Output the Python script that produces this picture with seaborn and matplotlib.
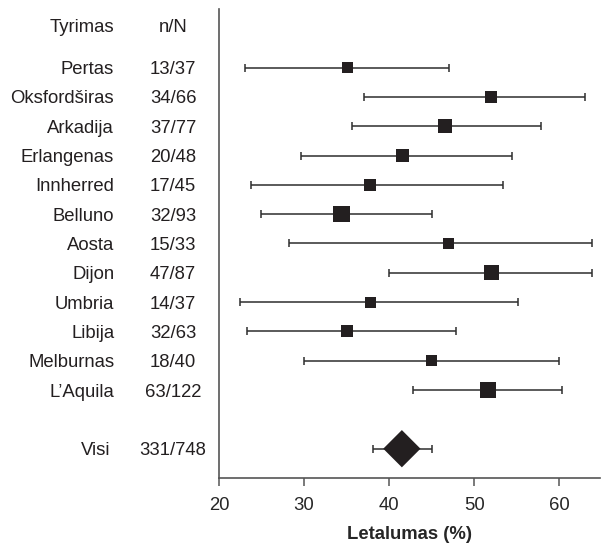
import numpy as np
import pandas as pd
import seaborn as sns
import matplotlib.pyplot as plt
import matplotlib.transforms as mtransforms

# Study data
studies = ['Pertas', 'Oksfordširas', 'Arkadija', 'Erlangenas', 'Innherred', 'Belluno',
           'Aosta', 'Dijon', 'Umbria', 'Libija', 'Melburnas', 'L\u2019Aquila']
n_over_N = ['13/37', '34/66', '37/77', '20/48', '17/45', '32/93',
            '15/33', '47/87', '14/37', '32/63', '18/40', '63/122']
estimate = [35.1, 52.0, 46.6, 41.6, 37.8, 34.4, 47.0, 52.0, 37.8, 35.0, 45.0, 51.6]
ci_low = [23.1, 37.0, 35.6, 29.6, 23.8, 24.9, 28.2, 40.0, 22.5, 23.3, 30.0, 42.8]
ci_high = [47.0, 63.0, 57.8, 54.4, 53.4, 45.0, 63.8, 63.9, 55.2, 47.9, 60.0, 60.3]
# relative study weight (drives square size)
weight = [1.0, 1.2, 1.6, 1.35, 1.2, 2.1, 1.0, 1.75, 1.0, 1.2, 1.0, 2.1]

pooled_label = 'Visi'
pooled_n = '331/748'
pooled_est = 41.5
pooled_low = 38.1
pooled_high = 45.0

df = pd.DataFrame({'study': studies, 'nN': n_over_N, 'est': estimate,
                   'lo': ci_low, 'hi': ci_high, 'w': weight})
df['row'] = np.arange(len(df))
pooled_row = len(df) + 1

sns.set_theme(style='white')
plt.rcParams['font.family'] = ['Liberation Sans', 'DejaVu Sans']

fig = plt.figure(figsize=(6.01, 5.44), dpi=100)
ax = fig.add_axes([0.3644, 0.1213, 0.6340, 0.8622])

ink = '#231f20'
bar_col = '#2e2e2e'

# confidence intervals
ax.errorbar(df['est'], df['row'], xerr=[df['est'] - df['lo'], df['hi'] - df['est']],
            fmt='none', ecolor=bar_col, elinewidth=1.1, capsize=3.2, capthick=1.1, zorder=1)
ax.errorbar([pooled_est], [pooled_row], xerr=[[pooled_est - pooled_low], [pooled_high - pooled_est]],
            fmt='none', ecolor=bar_col, elinewidth=1.1, capsize=3.2, capthick=1.1, zorder=1)

# study squares
sns.scatterplot(data=df, x='est', y='row', size='w', sizes=(62, 135), marker='s',
                color=ink, edgecolor='none', legend=False, ax=ax, zorder=3)
# pooled diamond
sns.scatterplot(x=[pooled_est], y=[pooled_row], marker='D', s=360, color=ink,
                edgecolor='none', legend=False, ax=ax, zorder=3)

fs = 13.3
ax.set_xlim(20, 64.8)
ax.set_ylim(pooled_row + 1, -2)
ax.set_xticks([20, 30, 40, 50, 60])
ax.set_yticks([])
ax.set_ylabel('')
ax.set_xlabel('Letalumas (%)', fontsize=fs, fontweight='bold', labelpad=8)
ax.tick_params(axis='x', direction='out', length=6, width=1.1, color='#555555',
               labelsize=fs, pad=8, bottom=True)
for side in ['top', 'right']:
    ax.spines[side].set_visible(False)
for side in ['left', 'bottom']:
    ax.spines[side].set_color('#555555')
    ax.spines[side].set_linewidth(1.2)

# left-hand text columns
trans = mtransforms.blended_transform_factory(fig.transFigure, ax.transData)
name_x = 0.19
nn_x = 0.288
va = 'center_baseline'
ax.text(name_x, -1.45, 'Tyrimas', transform=trans, ha='right', va=va, fontsize=fs, color=ink)
ax.text(nn_x, -1.45, 'n/N', transform=trans, ha='center', va=va, fontsize=fs, color=ink)
for _, r in df.iterrows():
    ax.text(name_x, r['row'], r['study'], transform=trans, ha='right', va=va, fontsize=fs, color=ink)
    ax.text(nn_x, r['row'], r['nN'], transform=trans, ha='center', va=va, fontsize=fs, color=ink)
ax.text(0.183, pooled_row, pooled_label, transform=trans, ha='right', va=va, fontsize=fs, color=ink)
ax.text(nn_x, pooled_row, pooled_n, transform=trans, ha='center', va=va, fontsize=fs, color=ink)

fig.savefig('out.png', dpi=100)
